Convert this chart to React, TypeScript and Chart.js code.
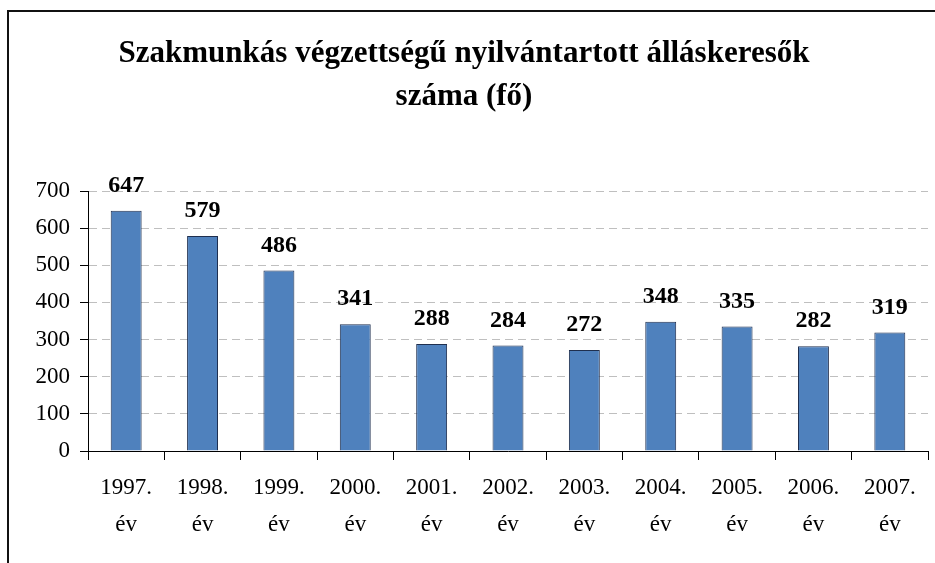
import React, { useEffect, useRef } from "react";
import { Chart, registerables } from "chart.js";

Chart.register(...registerables);

const categories: string[][] = [
  ["1997.", "év"], ["1998.", "év"], ["1999.", "év"], ["2000.", "év"], ["2001.", "év"],
  ["2002.", "év"], ["2003.", "év"], ["2004.", "év"], ["2005.", "év"], ["2006.", "év"], ["2007.", "év"],
];
const values: number[] = [647, 579, 486, 341, 288, 284, 272, 348, 335, 282, 319];
const titleLines: string[] = ["Szakmunkás végzettségű nyilvántartott álláskeresők", "száma (fő)"];
const yMin = 0;
const yMax = 700;
const yStep = 100;

const FONT = "'Liberation Serif', 'Times New Roman', serif";

const valueLabels = {
  id: "valueLabels",
  afterDatasetsDraw(chart: any) {
    const ctx = chart.ctx;
    const meta = chart.getDatasetMeta(0);
    ctx.save();
    ctx.font = `bold 24px ${FONT}`;
    ctx.fillStyle = "#000";
    ctx.textAlign = "center";
    ctx.textBaseline = "alphabetic";
    meta.data.forEach((bar: any, i: number) => {
      ctx.fillText(String(chart.data.datasets[0].data[i]), bar.x, bar.y - 19);
    });
    ctx.restore();
  },
};

export default function App() {
  const ref = useRef<HTMLCanvasElement | null>(null);
  useEffect(() => {
    document.body.style.margin = "0";
    if (!ref.current) return;
    const chart = new Chart(ref.current, {
      type: "bar",
      data: {
        labels: categories,
        datasets: [
          {
            data: values,
            backgroundColor: "#4F81BD",
            borderColor: "#1F2F4F",
            borderWidth: 1,
            barPercentage: 0.405,
            categoryPercentage: 1,
          },
        ],
      },
      options: {
        animation: false,
        responsive: false,
        devicePixelRatio: 1,
        layout: { padding: { left: 0, right: 7, top: 0, bottom: 0 } },
        plugins: {
          legend: { display: false },
          tooltip: { enabled: false },
          title: {
            display: true,
            text: titleLines,
            color: "#000",
            font: { family: FONT, size: 31, weight: "bold", lineHeight: 1.394 },
            padding: { top: 32.4, bottom: 72.2 },
          },
        },
        scales: {
          x: {
            grid: {
              drawOnChartArea: false,
              drawTicks: true,
              tickLength: 9,
              tickColor: "#000",
              color: "#000",
            },
            border: { color: "#000", width: 1 },
            ticks: {
              color: "#000",
              font: { family: FONT, size: 23, lineHeight: 1.61 },
              padding: 9.5,
              maxRotation: 0,
              autoSkip: false,
            },
            afterFit: (s: any) => {
              s.height = 112;
            },
          },
          y: {
            min: yMin,
            max: yMax,
            grid: {
              color: "#BFBFBF",
              tickColor: "#000",
              tickLength: 8,
              drawTicks: true,
            },
            border: { color: "#000", width: 1, dash: [8, 5] },
            ticks: {
              stepSize: yStep,
              color: "#000",
              font: { family: FONT, size: 23 },
              padding: 10,
            },
            afterFit: (s: any) => {
              s.width = 88;
            },
          },
        },
      },
      plugins: [valueLabels],
    });
    return () => chart.destroy();
  }, []);

  return (
    <div style={{ position: "relative", width: 935, height: 563, overflow: "hidden", background: "#fff" }}>
      <div
        style={{
          position: "absolute",
          left: 7,
          top: 10,
          width: 940,
          height: 570,
          borderLeft: "2px solid #111",
          borderTop: "2px solid #111",
          boxSizing: "border-box",
        }}
      />
      <canvas ref={ref} width={935} height={563} style={{ position: "absolute", left: 0, top: 0, display: "block" }} />
    </div>
  );
}
